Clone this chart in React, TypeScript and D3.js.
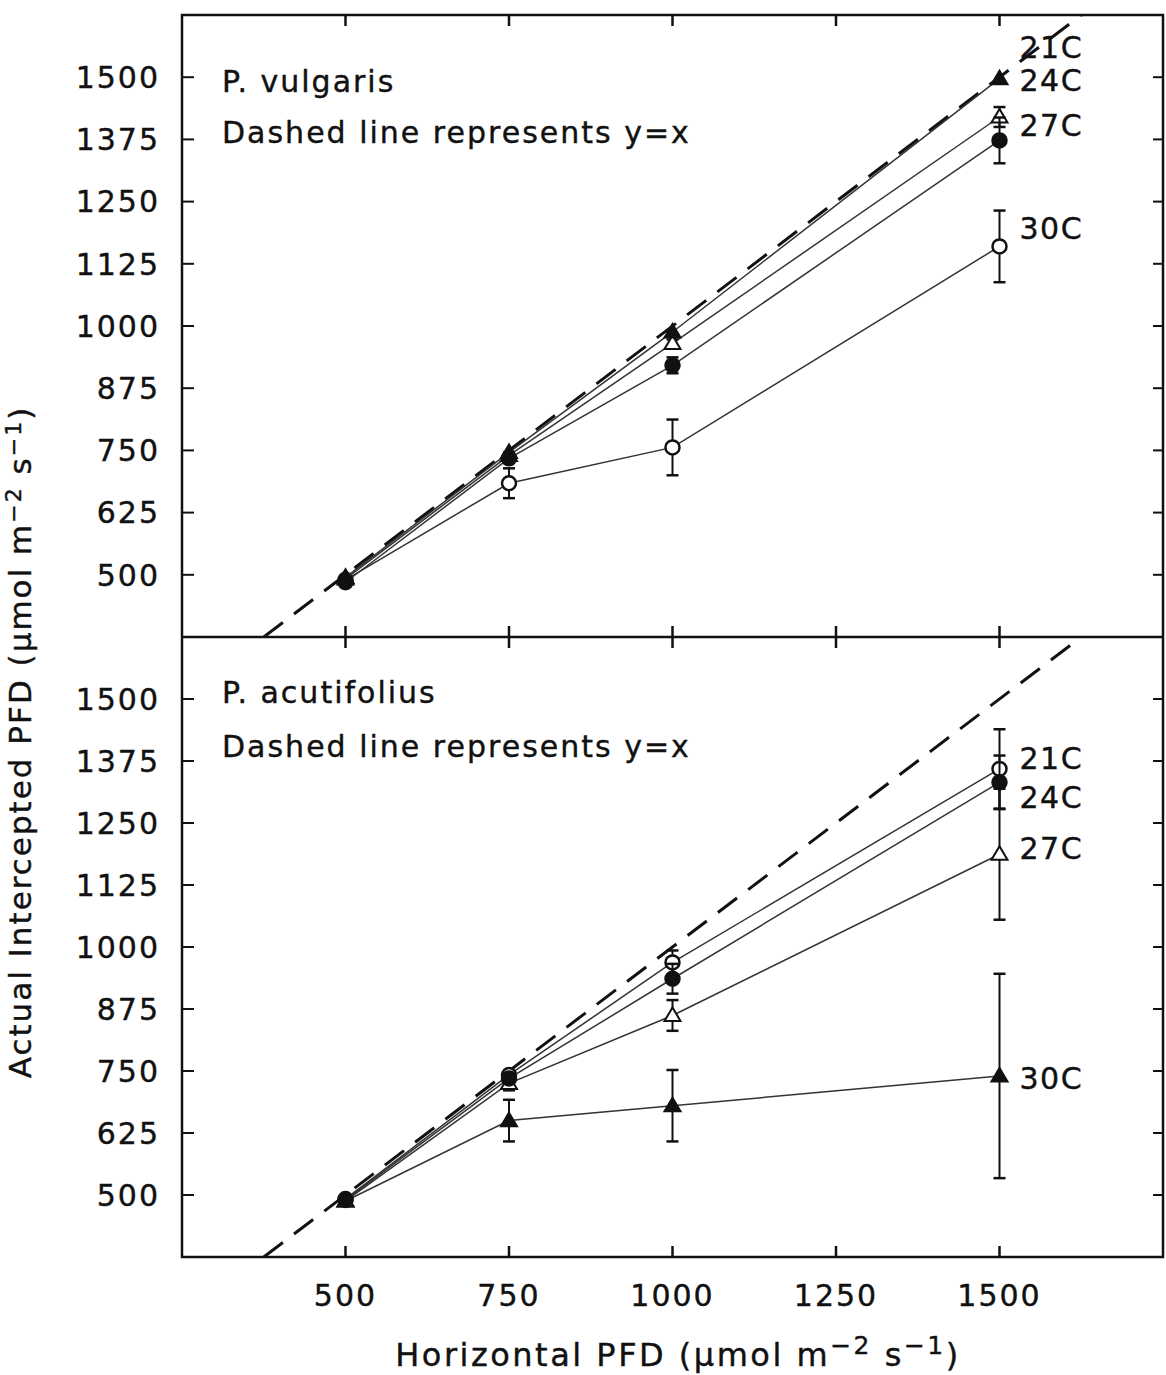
import { scaleLinear, line } from 'd3'

const xValues = [500, 750, 1000, 1500]
const xTicks = [500, 750, 1000, 1250, 1500]
const yTicks = [500, 625, 750, 875, 1000, 1125, 1250, 1375, 1500]

// P. vulgaris (top panel)
const vulgarisFilledTri = [495, 746, 988, 1497]
const vulgarisFilledTriErr = [0, 0, 0, 0]
const vulgarisOpenTri = [492, 740, 965, 1420]
const vulgarisOpenTriErr = [0, 6, 8, 20]
const vulgarisFilledCircle = [485, 734, 921, 1373]
const vulgarisFilledCircleErr = [0, 8, 16, 46]
const vulgarisOpenCircle = [490, 684, 756, 1160]
const vulgarisOpenCircleErr = [0, 30, 56, 72]
const vulgarisLabels = ['21C', '24C', '27C', '30C']
const vulgarisLabelAt = [1560, 1494, 1404, 1197]

// P. acutifolius (bottom panel)
const acutOpenCircle = [492, 742, 969, 1359]
const acutOpenCircleErr = [0, 8, 24, 80]
const acutFilledCircle = [490, 735, 936, 1332]
const acutFilledCircleErr = [0, 8, 30, 54]
const acutOpenTri = [488, 725, 862, 1187]
const acutOpenTriErr = [0, 14, 31, 132]
const acutFilledTri = [488, 650, 680, 740]
const acutFilledTriErr = [0, 42, 72, 206]
const acutLabels = ['21C', '24C', '27C', '30C']
const acutLabelAt = [1380, 1303, 1200, 735]

type Series = { values: number[]; err: number[]; marker: 'oc' | 'fc' | 'ot' | 'ft' }

const font = 'DejaVu Sans, sans-serif'
const ink = '#111'
// a thin outline makes the DejaVu text a little heavier, like the scan
const textStyle = { fontFamily: font, fill: ink, stroke: ink, strokeWidth: 0.4 }

const left = 182
const right = 1163
const x = scaleLinear().domain([250, 1750]).range([left, left + 981])

function Marker({ kind, cx, cy }: { kind: string; cx: number; cy: number }) {
	if (kind === 'oc' || kind === 'fc') {
		return <circle cx={cx} cy={cy} r={7} fill={kind === 'fc' ? ink : '#fff'} stroke={ink} strokeWidth={2.5} />
	}
	const s = 8
	const pts = `${cx},${cy - s} ${cx - s},${cy + s * 0.7} ${cx + s},${cy + s * 0.7}`
	return <polygon points={pts} fill={kind === 'ft' ? ink : '#fff'} stroke={ink} strokeWidth={2} />
}

function Panel({
	top,
	bottom,
	title,
	series,
	labels,
	labelAt,
	titleY,
	noteY,
	tickMode,
}: {
	top: number
	bottom: number
	title: string
	series: Series[]
	labels: string[]
	labelAt: number[]
	titleY: number
	noteY: number
	tickMode: 'top' | 'bottom'
}) {
	const y = scaleLinear().domain([375, 1625]).range([bottom, top])
	const path = line<number>()
		.x((_, i) => x(xValues[i]))
		.y((d) => y(d))
	const clipId = `clip-${top}`
	return (
		<g>
			<defs>
				<clipPath id={clipId}>
					<rect x={left} y={top} width={right - left} height={bottom - top} />
				</clipPath>
			</defs>
			<line
				x1={x(375)}
				y1={y(375)}
				x2={x(1625)}
				y2={y(1625)}
				stroke={ink}
				strokeWidth={3}
				strokeDasharray="24 14"
				clipPath={`url(#${clipId})`}
			/>
			{series.map((s, si) => (
				<g key={si}>
					<path d={path(s.values) ?? ''} fill="none" stroke="#333" strokeWidth={1.5} />
					{s.values.map((v, i) =>
						s.err[i] > 0 ? (
							<g key={i} stroke={ink} strokeWidth={2}>
								<line x1={x(xValues[i])} x2={x(xValues[i])} y1={y(v - s.err[i])} y2={y(v + s.err[i])} />
								<line x1={x(xValues[i]) - 6} x2={x(xValues[i]) + 6} y1={y(v - s.err[i])} y2={y(v - s.err[i])} strokeWidth={2.5} />
								<line x1={x(xValues[i]) - 6} x2={x(xValues[i]) + 6} y1={y(v + s.err[i])} y2={y(v + s.err[i])} strokeWidth={2.5} />
							</g>
						) : null,
					)}
					{s.values.map((v, i) => (
						<Marker key={`m${i}`} kind={s.marker} cx={x(xValues[i])} cy={y(v)} />
					))}
				</g>
			))}
			{labels.map((t, i) => (
				<text key={t} x={x(1500) + 20} y={y(labelAt[i])} dy="0.36em" fontSize={30} letterSpacing={1.5} {...textStyle}>
					{t}
				</text>
			))}
			<text x={222} y={titleY} fontSize={30} letterSpacing={2} {...textStyle}>
				{title}
			</text>
			<text x={222} y={noteY} fontSize={30} letterSpacing={2} {...textStyle}>
				Dashed line represents y=x
			</text>
			{yTicks.map((t) => (
				<g key={t}>
					<line x1={left} x2={left + 12} y1={y(t)} y2={y(t)} stroke={ink} strokeWidth={2} />
					<line x1={right - 10} x2={right} y1={y(t)} y2={y(t)} stroke={ink} strokeWidth={2} />
					<text x={160} y={y(t)} dy="0.36em" textAnchor="end" fontSize={30} letterSpacing={2} {...textStyle}>
						{t}
					</text>
				</g>
			))}
			{xTicks.map((t) =>
				tickMode === 'top' ? (
					<line key={t} x1={x(t)} x2={x(t)} y1={top} y2={top + 11} stroke={ink} strokeWidth={2.5} />
				) : (
					<g key={t}>
						<line x1={x(t)} x2={x(t)} y1={top - 11} y2={top + 11} stroke={ink} strokeWidth={2.5} />
						<line x1={x(t)} x2={x(t)} y1={bottom - 11} y2={bottom} stroke={ink} strokeWidth={2.5} />
					</g>
				),
			)}
		</g>
	)
}

export default function App() {
	const topPanel: Series[] = [
		{ values: vulgarisOpenCircle, err: vulgarisOpenCircleErr, marker: 'oc' },
		{ values: vulgarisOpenTri, err: vulgarisOpenTriErr, marker: 'ot' },
		{ values: vulgarisFilledTri, err: vulgarisFilledTriErr, marker: 'ft' },
		{ values: vulgarisFilledCircle, err: vulgarisFilledCircleErr, marker: 'fc' },
	]
	const bottomPanel: Series[] = [
		{ values: acutFilledTri, err: acutFilledTriErr, marker: 'ft' },
		{ values: acutOpenTri, err: acutOpenTriErr, marker: 'ot' },
		{ values: acutOpenCircle, err: acutOpenCircleErr, marker: 'oc' },
		{ values: acutFilledCircle, err: acutFilledCircleErr, marker: 'fc' },
	]

	return (
		<div style={{ position: 'absolute', left: 0, top: 0 }}>
			<svg width={1166} height={1375} style={{ display: 'block', background: '#fff' }}>
				<rect x={0} y={0} width={1166} height={1375} fill="#fff" />
				<Panel
					top={15}
					bottom={637}
					title="P. vulgaris"
					series={topPanel}
					labels={vulgarisLabels}
					labelAt={vulgarisLabelAt}
					titleY={92}
					noteY={143}
					tickMode="top"
				/>
				<Panel
					top={637}
					bottom={1257}
					title="P. acutifolius"
					series={bottomPanel}
					labels={acutLabels}
					labelAt={acutLabelAt}
					titleY={703}
					noteY={757}
					tickMode="bottom"
				/>
				<rect x={left} y={15} width={right - left} height={1257 - 15} fill="none" stroke={ink} strokeWidth={2.5} />
				<line x1={left} x2={right} y1={637} y2={637} stroke={ink} strokeWidth={2.5} />
				{xTicks.map((t) => (
					<text key={t} x={x(t)} y={1306} textAnchor="middle" fontSize={30} letterSpacing={2} {...textStyle}>
						{t}
					</text>
				))}
				<text x={678} y={1366} textAnchor="middle" fontSize={32} letterSpacing={2.5} {...textStyle}>
					Horizontal PFD (μmol m
					<tspan dy={-12} fontSize={25}>
						−2
					</tspan>
					<tspan dy={12}> s</tspan>
					<tspan dy={-12} fontSize={25}>
						−1
					</tspan>
					<tspan dy={12}>)</tspan>
				</text>
				<text transform="translate(31, 742) rotate(-90)" textAnchor="middle" fontSize={31} letterSpacing={2} {...textStyle}>
					Actual Intercepted PFD (μmol m
					<tspan dy={-10} fontSize={22}>
						−2
					</tspan>
					<tspan dy={10}> s</tspan>
					<tspan dy={-10} fontSize={22}>
						−1
					</tspan>
					<tspan dy={10}>)</tspan>
				</text>
			</svg>
		</div>
	)
}
